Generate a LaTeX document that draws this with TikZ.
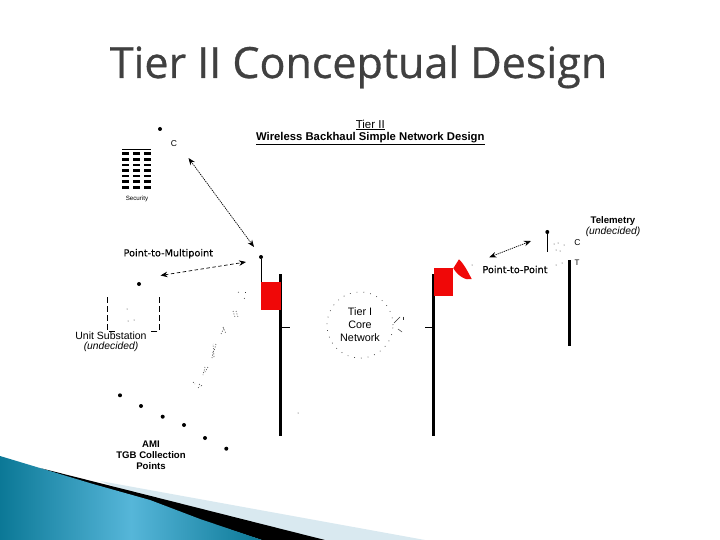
\documentclass[tikz,border=0pt]{standalone}
\usepackage{fontspec}
\setmainfont{Liberation Sans}
\newfontfamily\titlefont[FakeBold=0.7]{Open Sans}
\newfontfamily\labelfont[FakeBold=0.25]{DejaVu Sans}
\usetikzlibrary{arrows.meta,shadings}
\definecolor{tealdark}{HTML}{0B7896}
\definecolor{tealmid}{HTML}{56B6D9}
\definecolor{pale}{HTML}{D9E9F0}
\definecolor{titlegray}{HTML}{404040}
\definecolor{signalred}{HTML}{F00808}
\tikzset{
  txt/.style={inner sep=0pt,outer sep=0pt,align=center,font=\fontsize{9.5}{11}\selectfont},
  smalllabel/.style={txt,font=\labelfont\fontsize{9.7}{11}\selectfont},
  boldlabel/.style={txt,font=\bfseries\fontsize{9.6}{11}\selectfont},
  unitlabel/.style={txt,font=\fontsize{10.5}{12}\selectfont},
  italiclabel/.style={txt,font=\itshape\fontsize{10.3}{12}\selectfont},
  dotnode/.style={circle,fill=black,inner sep=0pt,minimum size=4pt},
  tinydot/.style={circle,fill=black!80,inner sep=0pt,minimum size=1pt},
  link/.style={{Stealth[length=7pt,width=5.5pt]}-{Stealth[length=7pt,width=5.5pt]},line width=.7pt},
  thickpole/.style={line width=2.6pt},
  thinline/.style={line width=.9pt},
  radiobox/.style={fill=signalred,draw=none},
  frag/.style={line width=.6pt,black!80,dash pattern=on 1pt off 1.6pt},
  rowdash/.style={line width=2.8pt}
}
\begin{document}
\begin{tikzpicture}[x=1pt,y=-1pt]
\useasboundingbox (0,0) rectangle (720,540);
\fill[white] (0,0) rectangle (720,540);

% title
\node[txt,anchor=base,text=titlegray,font=\titlefont\fontsize{43}{45}\selectfont] (title) at (358.5,78) {Tier II Conceptual Design};
\node[txt,font=\fontsize{11.5}{13}\selectfont] (h1) at (370.3,125) {\underline{Tier II}};
\node[txt,font=\bfseries\fontsize{11.3}{13}\selectfont] (h2) at (370.3,138.5) {\underline{Wireless Backhaul Simple Network Design}};

% bottom swoosh
\fill[pale] (100,481) -- (425,540) -- (250,540) -- cycle;
\fill[black] (40,468) -- (325,540) -- (262,540) -- cycle;
\shade[left color=tealdark,right color=tealdark,middle color=tealmid] (0,456) -- (93,484) -- (150,500) -- (200,519) -- (262,540) -- (0,540) -- cycle;

% security
\node[dotnode] (secdot) at (160,129) {};
\node[txt,font=\fontsize{8.5}{10}\selectfont] (secc) at (174,143.5) {C};
\draw[line width=.8pt] (122,149) -- (151,149);
\foreach \y in {153.3,159.3,165,170.5,176,181.5,187.3}
  \foreach \x in {122,133,144}
    \draw[rowdash] (\x,\y) -- (\x+7.2,\y);
\node[txt,font=\fontsize{6.2}{7}\selectfont] (seclab) at (137,198.5) {Security};

% left tower
\draw[thickpole] (280.5,274) -- (280.5,436);
\fill[radiobox] (261,282) rectangle (281,310);
\node[dotnode] (ltip) at (261,257) {};
\draw[thinline] (ltip) -- (261,282);
\draw[thinline] (281,327) -- (290,327);
\node[tinydot] (stray) at (298,413) {};

% links on the left
\coordinate (a1) at (188.5,158);
\coordinate (a2) at (254,247);
\draw[link,dash pattern=on 1.3pt off .9pt] (a1) -- (a2);
\coordinate (b1) at (160.5,275.5);
\coordinate (b2) at (246,262);
\draw[link,dash pattern=on 3.5pt off 2.5pt] (b1) -- (b2);
\node[smalllabel] (p2m) at (168.3,253.7) {Point-to-Multipoint};

% substation
\node[dotnode] (subdot) at (139,284) {};
\draw[line width=.7pt,dash pattern=on 6pt off 3pt] (107.3,297) -- (107.3,331) -- (117,331);
\draw[line width=.7pt,dash pattern=on 6pt off 3pt] (159.3,297) -- (159.3,331) -- (150,331);
\node[tinydot] at (127,309) {};
\node[tinydot] at (128,321) {};
\node[tinydot] at (134,320) {};
\node[unitlabel] (sub1) at (111,336) {Unit Substation};
\node[italiclabel] (sub2) at (111,347) {(undecided)};

% broken dotted link
\foreach \a/\b/\c/\d in {
  238/292/240/293, 245/292/247/292, 244/298/245/299,
  236/311/238/317, 233/311/235/317,
  223/327/226/334, 221/334/224/328,
  216/344/214/351, 214/357/213/344, 213/352/212/358,
  205/367/203/375, 208/367/205/372,
  193/382/195/384, 199/384/202/386, 198/388/200/386}
  \draw[frag] (\a,\b) -- (\c,\d);

% AMI dots
\foreach \n/\x/\y in {m1/120/395.3,m2/141/406,m3/162.7/416.7,m4/184/425,m5/205/438,m6/226.3/448.7}
  \node[dotnode] (\n) at (\x,\y) {};
\node[boldlabel] (ami) at (151,455) {AMI\\TGB Collection\\Points};

% tier I cloud
\node[circle,draw=black!70,dash pattern=on .8pt off 6pt,line width=.7pt,minimum size=66pt,inner sep=0pt] (core) at (360,325) {};
\node[txt,font=\fontsize{10.8}{13.2}\selectfont] (coretext) at (360,324.5) {Tier I\\Core\\Network};
\draw[line width=.5pt,black!80] (394,323) -- (400,317);
\draw[line width=.5pt,black!80] (403,316.5) -- (403,320);
\draw[line width=.5pt,black!80] (398,329) -- (402,332);

% right tower
\draw[thickpole] (433.5,274) -- (433.5,436);
\fill[radiobox] (433.5,268) rectangle (452.7,295.7);
\draw[thinline] (425,327) -- (433,327);
\fill[radiobox] (453.3,268.3) -- (459,259.3) .. controls (464,264) and (468,272) .. (471.7,279) .. controls (466,281) and (458,276) .. (453.3,268.3) -- cycle;
\node[tinydot] at (472,265) {};

% point to point link
\coordinate (c1) at (489.3,257.3);
\coordinate (c2) at (531,241);
\draw[link,dash pattern=on 1.3pt off .9pt] (c1) -- (c2);
\node[smalllabel] (p2p) at (515,269.5) {Point-to-Point};

% telemetry site
\node[dotnode] (rtip) at (547.3,232) {};
\coordinate (rbase) at (547.3,252);
\draw[thinline] (rtip) -- (rbase);
\draw[thickpole] (569.7,260) -- (569.7,345.7);
\node[txt,font=\fontsize{8.5}{10}\selectfont] (rc) at (577.5,243) {C};
\node[txt,font=\fontsize{8}{10}\selectfont] (rt) at (577,263) {T};
\foreach \x/\y in {554/244,558/243,564/245,556/250,560/251,556/265,562/263}
  \node[tinydot] at (\x,\y) {};
\node[boldlabel] (tel) at (613,221) {Telemetry};
\node[italiclabel] (und) at (613,232) {(undecided)};
\end{tikzpicture}
\end{document}
